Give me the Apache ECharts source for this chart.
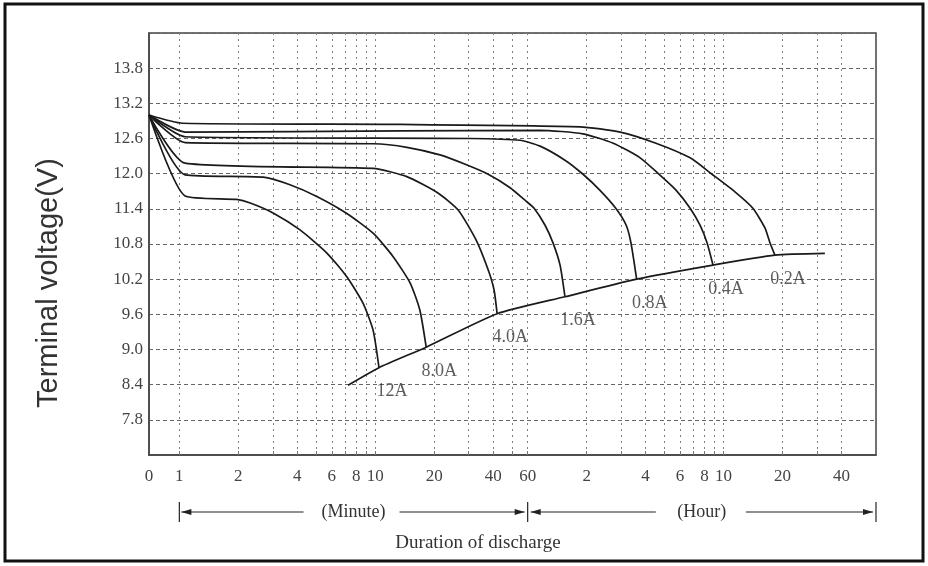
<!DOCTYPE html>
<html>
<head>
<meta charset="utf-8">
<script src="https://cdn.jsdelivr.net/npm/echarts@6/dist/echarts.min.js"></script>
<style>
html,body{margin:0;padding:0;background:#fff;}
#c{width:928px;height:566px;}
</style>
</head>
<body>
<div id="c"></div>
<script>
// ---- Data (time in minutes, terminal voltage in V) ----
const X_MIN = 0.7;      // axis origin (labelled "0")
const X_MAX = 3600;     // 60 hours
const xLabelValues = [X_MIN * 1.000001, 1, 2, 4, 6, 8, 10, 20, 40, 60, 120, 240, 360, 480, 600, 1200, 2400];
const xGridValues = [1, 2, 3, 4, 5, 6, 7, 8, 9, 10, 20, 30, 40, 50, 60, 120, 180, 240, 300, 360, 420, 480, 540, 600, 1200, 1800, 2400];
const seriesNames = ['12A', '8.0A', '4.0A', '1.6A', '0.8A', '0.4A', '0.2A'];

const c12A = [[X_MIN, 13.0], [1.07, 11.62], [1.96, 11.56], [2.30, 11.50], [3.01, 11.33], [4.13, 11.04], [5.65, 10.65], [7.16, 10.24], [8.66, 9.79], [9.75, 9.33], [10.45, 8.69]];
const c8A = [[X_MIN, 13.0], [1.07, 11.98], [2.68, 11.94], [3.67, 11.81], [5.03, 11.61], [7.16, 11.32], [9.78, 10.98], [12.37, 10.58], [15.1, 10.13], [16.9, 9.67], [18.2, 9.04]];
const c4A = [[X_MIN, 13.0], [1.07, 12.18], [9.75, 12.09], [14.5, 11.95], [20.9, 11.67], [26.5, 11.38], [32.7, 10.87], [37.7, 10.36], [40.4, 10.02], [41.9, 9.61]];
const c16A = [[X_MIN, 13.0], [1.07, 12.53], [9.75, 12.51], [14.5, 12.45], [21.4, 12.32], [28.8, 12.16], [37.7, 11.99], [48.8, 11.76], [58.9, 11.53], [64.7, 11.41], [73.6, 11.12], [80.8, 10.82], [87.8, 10.44], [93.0, 9.90]];
const c08A = [[X_MIN, 13.0], [1.07, 12.63], [30.5, 12.60], [54.8, 12.57], [69.4, 12.47], [93.0, 12.23], [115, 11.99], [140, 11.72], [169, 11.41], [191, 11.12], [202, 10.82], [216, 10.20]];
const c04A = [[X_MIN, 13.0], [1.07, 12.71], [13.4, 12.73], [69.4, 12.74], [115, 12.68], [164, 12.52], [225, 12.27], [281, 11.99], [343, 11.72], [405, 11.41], [455, 11.12], [494, 10.82], [530, 10.44]];
const c02A = [[X_MIN, 13.0], [1.04, 12.86], [13.4, 12.84], [111, 12.80], [178, 12.71], [271, 12.52], [405, 12.27], [524, 11.99], [686, 11.69], [847, 11.41], [977, 11.07], [1035, 10.82], [1097, 10.61]];
const cutoff = [[7.26, 8.39], [10.45, 8.69], [18.2, 9.04], [41.9, 9.61], [93.0, 9.90], [216, 10.20], [530, 10.44], [1097, 10.61], [1974, 10.64]];

// ---- Chart ----
const serif = '"Liberation Serif","Times New Roman",serif';
const sans = '"Liberation Sans",Arial,sans-serif';
const lineColor = '#1a1a1a';
const curves = [c12A, c8A, c4A, c16A, c08A, c04A, c02A];

const chart = echarts.init(document.getElementById('c'), null, { renderer: 'canvas' });

function xFmt(v) {
  if (v < 1) return '0';
  if (v <= 60) return String(Math.round(v));
  return String(Math.round(v / 60));
}

const series = curves.map((d, i) => ({
  name: seriesNames[i],
  type: 'line',
  data: d,
  symbol: 'none',
  smooth: 0.2,
  silent: true,
  lineStyle: { color: lineColor, width: 1.7 },
  z: 3
}));
series.push({
  name: 'end voltage',
  type: 'line',
  data: cutoff,
  symbol: 'none',
  smooth: 0.2,
  silent: true,
  lineStyle: { color: lineColor, width: 1.7 },
  z: 3
});
series.push({
  name: 'labels',
  type: 'scatter',
  data: curves.map((d, i) => ({ name: seriesNames[i], value: d[d.length - 1] })),
  symbolSize: 1,
  itemStyle: { color: 'rgba(0,0,0,0)' },
  silent: true,
  label: {
    show: true, formatter: '{b}', position: 'inside', offset: [13, 24],
    fontFamily: serif, fontSize: 18, color: '#333'
  },
  z: 4
});

chart.setOption({
  animation: false,
  backgroundColor: '#fff',
  grid: { left: 149, right: 52, top: 33, bottom: 111, show: true, borderColor: '#444', borderWidth: 1.5, backgroundColor: 'transparent' },
  xAxis: {
    type: 'log', logBase: 10, min: X_MIN, max: X_MAX,
    axisLine: { show: true, lineStyle: { color: '#444', width: 1.5 } },
    axisTick: { show: true, inside: true, length: 4, customValues: xGridValues, lineStyle: { color: '#777' } },
    axisLabel: { customValues: xLabelValues, formatter: xFmt, margin: 13, fontFamily: serif, fontSize: 17, color: '#444' },
    splitLine: { show: true, lineStyle: { color: '#808080', type: [2, 4], width: 1 } },
    minorTick: { show: false }, minorSplitLine: { show: false }
  },
  yAxis: {
    type: 'value', min: 7.2, max: 14.4, interval: 0.6,
    axisLine: { show: true, lineStyle: { color: '#444', width: 1.5 } },
    axisTick: { show: false },
    axisLabel: { formatter: v => v.toFixed(1), showMinLabel: false, showMaxLabel: false, margin: 6, fontFamily: serif, fontSize: 17, color: '#444' },
    splitLine: { show: true, lineStyle: { color: '#666', type: [4, 3], width: 1 } }
  },
  series: series
});

// ---- Decorations below the axis, positioned from the axis scale ----
const px = v => chart.convertToPixel({ gridIndex: 0 }, [v, 7.2])[0];
const x1 = px(1), x60 = px(60), xEnd = px(X_MAX);
const rowY = 512;
const mc = (x1 + x60) / 2, hc = (x60 + xEnd) / 2;
const stroke = { stroke: '#222', lineWidth: 1.2 };
function bar(x) { return { type: 'line', shape: { x1: x, y1: rowY - 10, x2: x, y2: rowY + 10 }, style: stroke, silent: true }; }
function seg(a, b) { return { type: 'line', shape: { x1: a, y1: rowY, x2: b, y2: rowY }, style: stroke, silent: true }; }
function head(x, dir) { return { type: 'polygon', shape: { points: [[x, rowY], [x + dir * 10, rowY - 3], [x + dir * 10, rowY + 3]] }, style: { fill: '#222' }, silent: true }; }

chart.setOption({
  graphic: [
    { type: 'rect', shape: { x: 5, y: 4, width: 918, height: 557 }, style: { fill: 'none', stroke: '#111', lineWidth: 3 }, silent: true },
    { type: 'text', x: 49, y: 408, rotation: Math.PI / 2, style: { text: 'Terminal voltage(V)', fontFamily: sans, fontSize: 29, fill: '#333', textAlign: 'left', textVerticalAlign: 'middle' }, silent: true },
    bar(x1), bar(x60), bar(xEnd),
    seg(x1 + 2, mc - 50), head(x1 + 2, 1),
    seg(mc + 46, x60 - 3), head(x60 - 3, -1),
    seg(x60 + 3, hc - 46), head(x60 + 3, 1),
    seg(hc + 44, xEnd - 3), head(xEnd - 3, -1),
    { type: 'text', x: mc, y: rowY, style: { text: '(Minute)', fontFamily: serif, fontSize: 18, fill: '#333', textAlign: 'center', textVerticalAlign: 'middle' }, silent: true },
    { type: 'text', x: hc, y: rowY, style: { text: '(Hour)', fontFamily: serif, fontSize: 18, fill: '#333', textAlign: 'center', textVerticalAlign: 'middle' }, silent: true },
    { type: 'text', x: 478, y: 543, style: { text: 'Duration of discharge', fontFamily: serif, fontSize: 19, fill: '#333', textAlign: 'center', textVerticalAlign: 'middle' }, silent: true }
  ]
});
</script>
</body>
</html>
